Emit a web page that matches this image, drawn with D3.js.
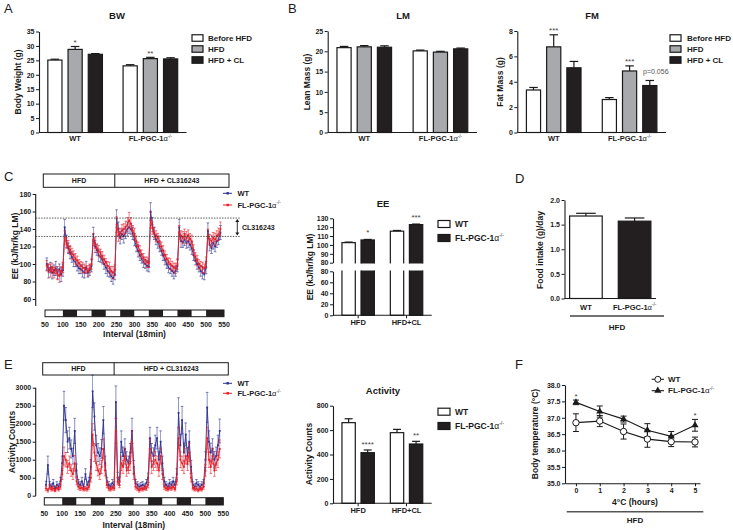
<!DOCTYPE html>
<html><head><meta charset="utf-8">
<script src="https://cdn.jsdelivr.net/npm/d3@7/dist/d3.min.js"></script>
<style>body{margin:0;background:#fff}</style>
</head><body>
<svg id="fig" width="733" height="530"></svg>
<script>
// ---------------- DATA ----------------
const genotypes = ["WT", "FL-PGC-1α-/-"];
const dietSeries = ["Before HFD", "HFD", "HFD + CL"];
const bwValues = [[25.1, 28.8, 27.1], [23.1, 25.6, 25.5]];
const bwErrors = [[0.3, 1.0, 0.25], [0.4, 0.45, 0.4]];
const bwStars = [["", "*", ""], ["", "**", ""]];
const lmValues = [[20.9, 21.1, 21.0], [20.1, 19.8, 20.6]];
const lmErrors = [[0.3, 0.3, 0.35], [0.2, 0.2, 0.2]];
const fmValues = [[3.35, 6.75, 5.1], [2.6, 4.85, 3.7]];
const fmErrors = [[0.2, 0.95, 0.5], [0.15, 0.4, 0.4]];
const fmStars = [["", "***", ""], ["", "***", "p=0.056"]];
const bwTicks = [0, 5, 10, 15, 20, 25, 30, 35];
const lmTicks = [0, 5, 10, 15, 20, 25];
const fmTicks = [0, 2, 4, 6, 8];

const treatments = ["HFD", "HFD+CL"];
const eeBarValues = [[102.6, 105.6], [115.5, 122.9]];   // [treatment][WT, FL]
const eeBarErrors = [[0.6, 0.6], [0.8, 0.6]];
const eeBarStars = [["", "*"], ["", "***"]];
const eeUpperTicks = [80, 90, 100, 110, 120, 130];
const eeLowerTicks = [0, 20, 40, 60, 80];

const actBarValues = [[661, 415], [579, 486]];
const actBarErrors = [[32, 22], [27, 22]];
const actBarStars = [["", "****"], ["", "**"]];
const actTicks = [0, 200, 400, 600, 800];

const foodValues = [1.675, 1.57];
const foodErrors = [0.055, 0.065];
const foodTicks = [0, 0.5, 1.0, 1.5, 2.0];

const hours = [0, 1, 2, 3, 4, 5];
const tempWT = [36.85, 36.90, 36.58, 36.35, 36.27, 36.26];
const tempWTerr = [0.27, 0.17, 0.23, 0.25, 0.15, 0.15];
const tempFL = [37.47, 37.19, 36.96, 36.62, 36.43, 36.77];
const tempFLerr = [0.07, 0.17, 0.09, 0.20, 0.15, 0.18];
const tempStars = ["*", "", "", "", "", "*"];
const tempTicks = [35.0, 35.5, 36.0, 36.5, 37.0, 37.5, 38.0];

// time series (18-min intervals)
const intervals = [55,60,65,70,75,80,85,90,95,100,105,110,115,120,125,130,135,140,145,150,155,160,165,170,175,180,185,190,195,200,205,210,215,220,225,230,235,240,245,250,255,260,265,270,275,280,285,290,295,300,305,310,315,320,325,330,335,340,345,350,355,360,365,370,375,380,385,390,395,400,405,410,415,420,425,430,435,440,445,450,455,460,465,470,475,480,485,490,495,500,505,510,515,520,525,530,535,540];
const eeWT = [100,92,96,90,93,95,90,94,88,93, 142,126,118,113,108,104,102,98,95,94,92,90,96,90,93, 98, 134,120,116,110,108,105,100,96,92,90,86,84,88, 152,140,130,134,132,136,140,142,140,135, 128,120,115,110,106,102,100,98,97, 160,145,135,128,125,120,115,110,105,100,96,94,92,90,92,98, 142,126,125,128,124,126,122,118,110,104,100,96,92,90,88,96, 138,122,118,124,120,126,128,136];
const eeWTerr = [7,8,6,7,6,8,7,6,8,7, 9,7,6,7,6,7,5,6,6,5,7,6,7,5,6, 7, 8,7,6,7,6,5,6,7,6,5,6,7,6, 10,8,7,6,8,7,8,7,6,7, 7,6,7,6,5,6,5,6,6, 10,8,7,6,7,6,5,6,6,5,6,5,6,7,6,7, 9,7,6,7,6,7,6,7,6,5,6,5,6,7,6,7, 9,7,6,7,6,7,6,8];
const eeFL = [98,95,92,96,90,93,88,86,92,96, 130,124,120,116,112,110,106,104,101,98,96,95,94,92,95, 100, 128,124,118,115,112,108,105,102,98,96,92,90,93, 145,133,135,138,140,142,145,150,146,138, 134,126,120,115,111,107,104,102,101, 150,141,136,132,130,126,120,115,110,106,103,100,98,96,95,100, 136,132,130,134,130,133,129,126,116,108,104,100,98,96,95,102, 132,128,126,130,128,132,134,140];
const eeFLerr = [6,5,7,5,6,4,6,7,5,6, 8,6,7,5,6,5,6,5,4,5,6,5,4,6,5, 6, 7,6,5,6,5,6,5,4,5,6,5,7,6, 9,7,6,7,6,7,8,9,7,6, 7,6,5,6,5,5,4,6,5, 9,7,6,6,5,6,5,6,5,5,4,6,5,5,6,6, 8,6,7,6,7,6,6,7,6,5,6,5,5,6,5,6, 8,6,7,6,7,6,7,8];
const actWT = [300,850,300,250,350,200,300,250,400,900, 2500,2100,1500,1600,1300,1100,1800,700, 350,300,400,250,600,300,400, 800,2900,2200,1400,1200,1100,1300,2100,900, 400,300,250,350,300, 2600,500,400,1500,1100,1300,1000,900,1200,1800,800, 350,300,250,280,300,250,350,500, 1600,1200,1100,1400,1600,1000,1500,900, 400,300,250,350,300,400,300,600, 2300,1400,2100,1200,1700,1100,1500,800, 300,250,350,300,250,300,350,1000, 2450,1500,1200,1300,1000,1100,1400,1800];
const actWTerr = [100,250,90,80,100,70,90,80,110,200, 400,350,300,300,250,220,350,180, 100,90,110,80,150,90,110, 200,450,380,280,250,230,260,380,200, 110,90,80,100,90, 450,150,120,300,250,280,220,200,250,350,180, 100,90,80,90,90,80,100,130, 300,250,230,280,300,220,300,200, 110,90,80,100,90,110,90,150, 420,300,380,260,320,240,300,180, 90,80,100,90,80,90,100,220, 420,300,260,280,230,250,280,330];
const actFL = [200,150,250,180,200,150,220,180,250,600, 1100,1000,800,900,700,600,900,400, 250,200,220,180,200,180,250, 500,1700,1200,900,700,600,800,1300,700, 300,200,180,220,200, 1800,400,300,900,800,1100,700,800,900,1500,600, 250,200,150,200,180,220,200,300, 1300,800,900,1000,900,700,1100,600, 250,200,180,220,200,250,180,400, 1600,1000,900,800,1100,900,1200,500, 220,180,200,150,200,180,250,700, 1600,1000,800,1100,700,900,1000,1300];
const actFLerr = [60,50,70,50,60,40,60,50,70,150, 250,200,180,200,160,150,220,100, 70,60,60,50,60,50,70, 120,300,250,200,150,150,180,280,150, 80,60,50,60,50, 350,100,80,200,180,220,160,180,200,300,150, 70,60,50,60,50,60,50,80, 280,180,200,220,200,160,220,150, 70,60,50,60,50,70,50,100, 300,220,200,180,220,200,250,120, 60,50,60,40,60,50,70,160, 300,220,180,220,160,200,220,250];
const phaseBounds = [50, 100, 140, 180, 220, 260, 300, 340, 380, 420, 460, 500, 550];
const intervalTicks = [50, 100, 150, 200, 250, 300, 350, 400, 450, 500, 550];
const eeTicks = [60, 80, 100, 120, 140, 160, 180];
const actSeriesTicks = [0, 500, 1000, 1500, 2000, 2500, 3000];
const clStart = 245;
const clBand = [131.5, 152.5];

// ---------------- STYLE ----------------
const FONT = '"Liberation Sans", Arial, Helvetica, sans-serif';
const INK = "#1a1a1a", GRAY = "#a7a9ac", BLACK = "#231f20";
const BLUE = "#2e3192", RED = "#ed1c24";
const svg = d3.select("#fig").style("font-family", FONT);

function T(x, y, s, o = {}) {
  const t = svg.append("text").attr("x", x).attr("y", y)
    .attr("font-size", o.size || 8).attr("font-weight", o.w || "bold")
    .attr("text-anchor", o.a || "middle").attr("fill", o.fill || INK)
    .attr("font-family", FONT);
  if (o.rot) t.attr("transform", `rotate(-90,${x},${y})`);
  if (s != null) t.text(s);
  return t;
}
function geno(x, y, size, anchor) {
  const t = T(x, y, null, {size, a: anchor || "middle"});
  t.append("tspan").text("FL-PGC-1");
  t.append("tspan").attr("font-weight", "normal").text("α");
  t.append("tspan").attr("font-size", size * 0.6).attr("dy", -size * 0.45).attr("font-weight", "normal").text("-/-");
  return t;
}
function label(x, y, s, size) { return s.startsWith("FL-PGC") ? geno(x, y, size) : T(x, y, s, {size}); }
function yAxis(scale, x, ticks, fmt) {
  const g = svg.append("g").attr("transform", `translate(${x},0)`)
    .call(d3.axisLeft(scale).tickValues(ticks).tickFormat(fmt || d3.format("d"))
      .tickSize(3).tickSizeOuter(0).tickPadding(1.5));
  g.select(".domain").attr("stroke", INK).attr("stroke-width", 1.1);
  g.selectAll(".tick line").attr("stroke", INK).attr("stroke-width", 1);
  g.selectAll(".tick text").attr("font-size", 7).attr("font-weight", "bold")
    .attr("font-family", FONT).attr("fill", INK);
  return g;
}
function hline(x1, x2, y, w, c) {
  svg.append("line").attr("x1", x1).attr("x2", x2).attr("y1", y).attr("y2", y)
    .attr("stroke", c || INK).attr("stroke-width", w || 1.1);
}
function errUp(cx, yTop, yBase, cw) {
  svg.append("line").attr("x1", cx).attr("x2", cx).attr("y1", yBase).attr("y2", yTop).attr("stroke", INK).attr("stroke-width", 1.2);
  hline(cx - cw, cx + cw, yTop, 1.2);
}
function legendBoxes(x, rows, labels, fills, textX, size, bw, bh) {
  labels.forEach((s, i) => {
    svg.append("rect").attr("x", x).attr("y", rows[i] - bh / 2).attr("width", bw).attr("height", bh)
      .attr("fill", fills[i]).attr("stroke", INK).attr("stroke-width", 1.2);
    const t = s.startsWith("FL-PGC") ? geno(textX, rows[i] + size * 0.36, size, "start")
                                      : T(textX, rows[i] + size * 0.36, s, {size, a: "start"});
  });
}

// grouped bar chart
function groupedBars(c) {
  const y = c.y;
  const xg = d3.scalePoint().domain(d3.range(c.values.length)).range([c.left, c.right]).padding(c.pad);
  const ns = c.values[0].length;
  const xs = d3.scaleBand().domain(d3.range(ns)).range([-c.half, c.half]).paddingInner(ns > 1 ? 0.3 : 0);
  c.values.forEach((row, gi) => row.forEach((v, si) => {
    const x = xg(gi) + xs(si), w = xs.bandwidth();
    svg.append("rect").attr("x", x).attr("y", y(v)).attr("width", w).attr("height", y(0) - y(v))
      .attr("fill", c.fill(gi, si)).attr("stroke", INK).attr("stroke-width", 1.2);
    const e = c.errors[gi][si];
    errUp(x + w / 2, y(v + e), y(v), w * 0.3);
    const st = c.stars ? c.stars[gi][si] : "";
    if (st) {
      if (st.startsWith("p")) T(x + w / 2 + 6, y(v + e) - 6, st, {size: 7, w: "normal", fill: "#555"});
      else T(x + w / 2, y(v + e) - (c.starDy || 1.5), st, {size: 8, w: "normal", fill: "#444"});
    }
  }));
  yAxis(y, c.left, c.ticks, c.fmt);
  hline(c.left, c.right, y(0));
  return xg;
}

const fill3 = [ "#ffffff", GRAY, BLACK ];

// ---------- Panel A : BW ----------
T(4, 12.5, "A", {size: 13, w: "normal", a: "start"});
T(117, 18.5, "BW", {size: 9.5});
const yA = d3.scaleLinear().domain([0, 35]).range([132.5, 31.5]);
const xA = groupedBars({y: yA, left: 39, right: 186.5, pad: 0.48, half: 27.3, values: bwValues, errors: bwErrors,
  stars: bwStars, fill: (g, s) => fill3[s], ticks: bwTicks});
genotypes.forEach((g, i) => label(xA(i), 141, g, 7.5));
T(21, 82, "Body Weight (g)", {size: 8.5, rot: true});
legendBoxes(192, [38, 49, 60], dietSeries, fill3, 208, 8, 11, 6.5);

// ---------- Panel B : LM ----------
T(288, 12.5, "B", {size: 13, w: "normal", a: "start"});
T(403, 18.5, "LM", {size: 9.5});
const yL = d3.scaleLinear().domain([0, 25]).range([132.5, 31]);
const xL = groupedBars({y: yL, left: 327.7, right: 477, pad: 0.48, half: 27.3, values: lmValues, errors: lmErrors,
  fill: (g, s) => fill3[s], ticks: lmTicks});
genotypes.forEach((g, i) => label(xL(i), 141, g, 7.5));
T(310, 82, "Lean Mass (g)", {size: 8.5, rot: true});

// ---------- Panel B : FM ----------
T(592, 18.5, "FM", {size: 9.5});
const yF = d3.scaleLinear().domain([0, 8]).range([132.5, 31]);
const xF = groupedBars({y: yF, left: 517.3, right: 666, pad: 0.48, half: 27.3, values: fmValues, errors: fmErrors,
  stars: fmStars, fill: (g, s) => fill3[s], ticks: fmTicks});
genotypes.forEach((g, i) => label(xF(i), 141, g, 7.5));
T(503, 82, "Fat Mass (g)", {size: 8.5, rot: true});
legendBoxes(670, [38, 49, 60], dietSeries, fill3, 687, 8, 11, 6.5);

// ---------- time series helper ----------
function timeSeries(c) {
  const x = d3.scaleLinear().domain([50, 550]).range(c.xr);
  const y = c.y;
  // banner
  svg.append("rect").attr("x", c.banner[0]).attr("y", c.banner[2]).attr("width", c.banner[1] - c.banner[0])
    .attr("height", c.banner[3] - c.banner[2]).attr("fill", "#fff").attr("stroke", INK).attr("stroke-width", 1);
  svg.append("line").attr("x1", x(clStart)).attr("x2", x(clStart)).attr("y1", c.banner[2]).attr("y2", c.banner[3]).attr("stroke", INK);
  const bm = (c.banner[2] + c.banner[3]) / 2 + 2.5;
  T((c.banner[0] + x(clStart)) / 2, bm, "HFD", {size: 7});
  T((x(clStart) + c.banner[1]) / 2, bm, "HFD + CL316243", {size: 7});
  // y axis
  const g = yAxis(y, 35.7, c.ticks);
  g.select(".domain").remove();
  svg.append("line").attr("x1", 35.7).attr("x2", 35.7).attr("y1", y(c.ticks[c.ticks.length - 1])).attr("y2", c.axisBottom)
    .attr("stroke", INK).attr("stroke-width", 1.1);
  // series
  const drawS = (vals, errs, col) => {
    const gg = svg.append("g");
    vals.forEach((v, i) => {
      const cx = x(intervals[i]);
      gg.append("line").attr("x1", cx).attr("x2", cx).attr("y1", y(v - errs[i])).attr("y2", y(v + errs[i]))
        .attr("stroke", col).attr("stroke-width", 0.6).attr("opacity", 0.9);
      [v - errs[i], v + errs[i]].forEach(ev => gg.append("line").attr("x1", cx - 1.3).attr("x2", cx + 1.3)
        .attr("y1", y(ev)).attr("y2", y(ev)).attr("stroke", col).attr("stroke-width", 0.6));
    });
    gg.append("path").datum(vals).attr("fill", "none").attr("stroke", col).attr("stroke-width", 0.9)
      .attr("d", d3.line().x((d, i) => x(intervals[i])).y(d => y(d)));
    gg.selectAll(null).data(vals).enter().append("rect")
      .attr("x", (d, i) => x(intervals[i]) - 0.9).attr("y", d => y(d) - 0.9).attr("width", 1.8).attr("height", 1.8).attr("fill", col);
  };
  drawS(c.wt, c.wtErr, BLUE);
  drawS(c.fl, c.flErr, RED);
  // day/night bar
  for (let i = 0; i < phaseBounds.length - 1; i++) {
    svg.append("rect").attr("x", x(phaseBounds[i])).attr("y", c.barY[0]).attr("width", x(phaseBounds[i + 1]) - x(phaseBounds[i]))
      .attr("height", c.barY[1] - c.barY[0]).attr("fill", i % 2 ? BLACK : "#fff");
  }
  svg.append("rect").attr("x", x(50)).attr("y", c.barY[0]).attr("width", x(550) - x(50)).attr("height", c.barY[1] - c.barY[0])
    .attr("fill", "none").attr("stroke", INK).attr("stroke-width", 1);
  intervalTicks.forEach(t => T(x(t), c.tickY, t, {size: 7}));
  T((x(50) + x(550)) / 2, c.titleY, "Interval (18min)", {size: 8.5});
  // legend
  [[BLUE, "WT"], [RED, "FL-PGC-1α-/-"]].forEach(([col, s], i) => {
    const yy = c.leg[i];
    hline(223, 232, yy, 1, col);
    svg.append("rect").attr("x", 226.5).attr("y", yy - 1.2).attr("width", 2.4).attr("height", 2.4).attr("fill", col);
    if (i === 0) T(237.5, yy + 2.7, s, {size: 7.5, a: "start"}); else geno(237.5, yy + 2.7, 7.5, "start");
  });
  return x;
}

// ---------- Panel C ----------
T(4, 181, "C", {size: 13, w: "normal", a: "start"});
const yC = d3.scaleLinear().domain([60, 180]).range([299, 194]);
timeSeries({xr: [45, 224], y: yC, ticks: eeTicks, axisBottom: 306, banner: [43.3, 229, 174, 187.3],
  wt: eeWT, wtErr: eeWTerr, fl: eeFL, flErr: eeFLerr, barY: [310, 316.7], tickY: 327, titleY: 337, leg: [193.3, 205]});
T(18, 246, "EE (kJ/hr/kg LM)", {size: 8.5, rot: true});
clBand.forEach(v => svg.append("line").attr("x1", 35.7).attr("x2", 240).attr("y1", yC(v)).attr("y2", yC(v))
  .attr("stroke", "#333").attr("stroke-width", 0.8).attr("stroke-dasharray", "1.5,1.2"));
{
  const ax = 237.3, y1 = yC(clBand[1]) + 1, y2 = yC(clBand[0]) - 1;
  svg.append("line").attr("x1", ax).attr("x2", ax).attr("y1", y1 + 2).attr("y2", y2 - 2).attr("stroke", INK).attr("stroke-width", 0.9);
  svg.append("path").attr("d", `M${ax - 2},${y1 + 3}L${ax},${y1}L${ax + 2},${y1 + 3}Z M${ax - 2},${y2 - 3}L${ax},${y2}L${ax + 2},${y2 - 3}Z`).attr("fill", INK);
  T(242, 230, "CL316243", {size: 7, a: "start"});
}

// ---------- Panel C : EE bars (broken axis) ----------
T(383, 206.5, "EE", {size: 9.5});
{
  const yU = d3.scaleLinear().domain([80, 130]).range([262.7, 218.3]);
  const yLo = d3.scaleLinear().domain([0, 80]).range([315.3, 271.3]);
  const defs = svg.append("defs");
  defs.append("clipPath").attr("id", "clipU").append("rect").attr("x", 330).attr("y", 200).attr("width", 110).attr("height", 263.5 - 200);
  defs.append("clipPath").attr("id", "clipL").append("rect").attr("x", 330).attr("y", 270.5).attr("width", 110).attr("height", 50);
  const xg = d3.scalePoint().domain(d3.range(treatments.length)).range([333, 431.7]).padding(0.52);
  const xs = d3.scaleBand().domain([0, 1]).range([-16.2, 16.2]).paddingInner(0.3);
  const fills = ["#fff", BLACK];
  eeBarValues.forEach((row, gi) => row.forEach((v, si) => {
    const x = xg(gi) + xs(si), w = xs.bandwidth();
    svg.append("rect").attr("clip-path", "url(#clipU)").attr("x", x).attr("y", yU(v)).attr("width", w)
      .attr("height", yU(80) + 12 - yU(v)).attr("fill", fills[si]).attr("stroke", INK).attr("stroke-width", 1.2);
    svg.append("rect").attr("clip-path", "url(#clipL)").attr("x", x).attr("y", yLo(80) - 12).attr("width", w)
      .attr("height", yLo(0) - yLo(80) + 12).attr("fill", fills[si]).attr("stroke", INK).attr("stroke-width", 1.2);
    const e = eeBarErrors[gi][si];
    errUp(x + w / 2, yU(v + e), yU(v), w * 0.3);
    if (eeBarStars[gi][si]) T(x + w / 2, yU(v + e) - 4, eeBarStars[gi][si], {size: 8, w: "normal", fill: "#444"});
  }));
  const gU = yAxis(yU, 333, eeUpperTicks);
  const gL = yAxis(yLo, 333, eeLowerTicks);
  hline(333, 431.7, yLo(0));
  treatments.forEach((t, i) => {
    svg.append("line").attr("x1", xg(i)).attr("x2", xg(i)).attr("y1", yLo(0)).attr("y2", yLo(0) + 3).attr("stroke", INK);
    T(xg(i), 325, t, {size: 7.5});
  });
  T(313, 267, "EE (kJ/hr/kg LM)", {size: 8.5, rot: true});
  legendBoxes(438, [224, 238], ["WT", "FL-PGC-1α-/-"], ["#fff", BLACK], 455, 8.5, 12, 7);
}

// ---------- Panel D ----------
T(515, 183, "D", {size: 13, w: "normal", a: "start"});
{
  const yD = d3.scaleLinear().domain([0, 2]).range([298.5, 200]);
  const xD = groupedBars({y: yD, left: 564.5, right: 656, pad: 0.44, half: 16.3,
    values: foodValues.map(v => [v]), errors: foodErrors.map(v => [v]),
    fill: (g) => g === 0 ? "#fff" : BLACK, ticks: foodTicks, fmt: d3.format(".1f")});
  genotypes.forEach((g, i) => label(xD(i), 309.5, g, 7.5));
  hline(570, 664, 316, 1.3, "#444");
  T(617, 329.5, "HFD", {size: 8});
  T(543, 250, "Food intake (g)/day", {size: 8.5, rot: true});
}

// ---------- Panel E ----------
T(4, 369, "E", {size: 13, w: "normal", a: "start"});
const yE = d3.scaleLinear().domain([0, 3000]).range([495.7, 387.7]);
timeSeries({xr: [44.3, 223.3], y: yE, ticks: actSeriesTicks, axisBottom: 496, banner: [42.7, 228.3, 362.7, 375],
  wt: actWT, wtErr: actWTerr, fl: actFL, flErr: actFLerr, barY: [497.7, 505], tickY: 516, titleY: 527.5, leg: [383.3, 393.3]});
T(15, 442, "Activity Counts", {size: 8.5, rot: true});

// ---------- Activity bars ----------
T(383, 393.5, "Activity", {size: 9.5});
{
  const yAct = d3.scaleLinear().domain([0, 800]).range([503.3, 405.7]);
  const xAct = groupedBars({y: yAct, left: 333, right: 431.7, pad: 0.52, half: 16.2, values: actBarValues, errors: actBarErrors,
    stars: actBarStars, starDy: 3, fill: (g, s) => s === 0 ? "#fff" : BLACK, ticks: actTicks});
  treatments.forEach((t, i) => {
    svg.append("line").attr("x1", xAct(i)).attr("x2", xAct(i)).attr("y1", yAct(0)).attr("y2", yAct(0) + 3).attr("stroke", INK);
    T(xAct(i), 512.5, t, {size: 7.5});
  });
  T(312, 454, "Activity Counts", {size: 8.5, rot: true});
  legendBoxes(438, [411.7, 426], ["WT", "FL-PGC-1α-/-"], ["#fff", BLACK], 455, 8.5, 12, 7);
}

// ---------- Panel F ----------
T(515, 369, "F", {size: 13, w: "normal", a: "start"});
{
  const yT = d3.scaleLinear().domain([35, 38]).range([483.3, 385]);
  const xT = d3.scaleLinear().domain([-0.46, 5.21]).range([565, 700]);
  yAxis(yT, 565, tempTicks, d3.format(".1f"));
  const gx = svg.append("g").attr("transform", `translate(0,${yT(35)})`)
    .call(d3.axisBottom(xT).tickValues(hours).tickFormat(d3.format("d")).tickSize(3).tickSizeOuter(0).tickPadding(1.5));
  gx.select(".domain").attr("stroke", INK).attr("stroke-width", 1.1);
  gx.selectAll(".tick line").attr("stroke", INK);
  gx.selectAll(".tick text").attr("font-size", 7).attr("font-weight", "bold").attr("font-family", FONT).attr("fill", INK);
  T(635, 505, "4°C (hours)", {size: 8.5});
  hline(566.7, 703.3, 511.7, 1.5, "#555");
  T(635, 523, "HFD", {size: 8});
  T(538, 434, "Body temperature (°C)", {size: 8.5, rot: true});
  const errBoth = (vals, errs) => vals.forEach((v, i) => {
    const cx = xT(hours[i]);
    svg.append("line").attr("x1", cx).attr("x2", cx).attr("y1", yT(v - errs[i])).attr("y2", yT(v + errs[i])).attr("stroke", INK).attr("stroke-width", 1);
    hline(cx - 3, cx + 3, yT(v - errs[i]), 1); hline(cx - 3, cx + 3, yT(v + errs[i]), 1);
  });
  errBoth(tempWT, tempWTerr); errBoth(tempFL, tempFLerr);
  const ln = d3.line().x((d, i) => xT(hours[i])).y(d => yT(d));
  svg.append("path").datum(tempWT).attr("d", ln).attr("fill", "none").attr("stroke", INK).attr("stroke-width", 1.2);
  svg.append("path").datum(tempFL).attr("d", ln).attr("fill", "none").attr("stroke", INK).attr("stroke-width", 1.2);
  const tri = d3.symbol().type(d3.symbolTriangle).size(22);
  tempWT.forEach((v, i) => svg.append("circle").attr("cx", xT(hours[i])).attr("cy", yT(v)).attr("r", 3.2)
    .attr("fill", "#fff").attr("stroke", INK).attr("stroke-width", 1));
  tempFL.forEach((v, i) => svg.append("path").attr("d", tri).attr("transform", `translate(${xT(hours[i])},${yT(v)})`).attr("fill", INK));
  tempStars.forEach((s, i) => { if (s) T(xT(hours[i]), yT(tempFL[i] + tempFLerr[i]) - 1.5, s, {size: 8, w: "normal", fill: "#444"}); });
  // legend
  hline(651.7, 664, 379.3, 1.1); svg.append("circle").attr("cx", 657.8).attr("cy", 379.3).attr("r", 3).attr("fill", "#fff").attr("stroke", INK);
  T(668, 382, "WT", {size: 8, a: "start"});
  hline(651.7, 664, 390.7, 1.1); svg.append("path").attr("d", tri).attr("transform", "translate(657.8,390.7)").attr("fill", INK);
  geno(668, 393.4, 8, "start");
}
</script>
</body></html>
